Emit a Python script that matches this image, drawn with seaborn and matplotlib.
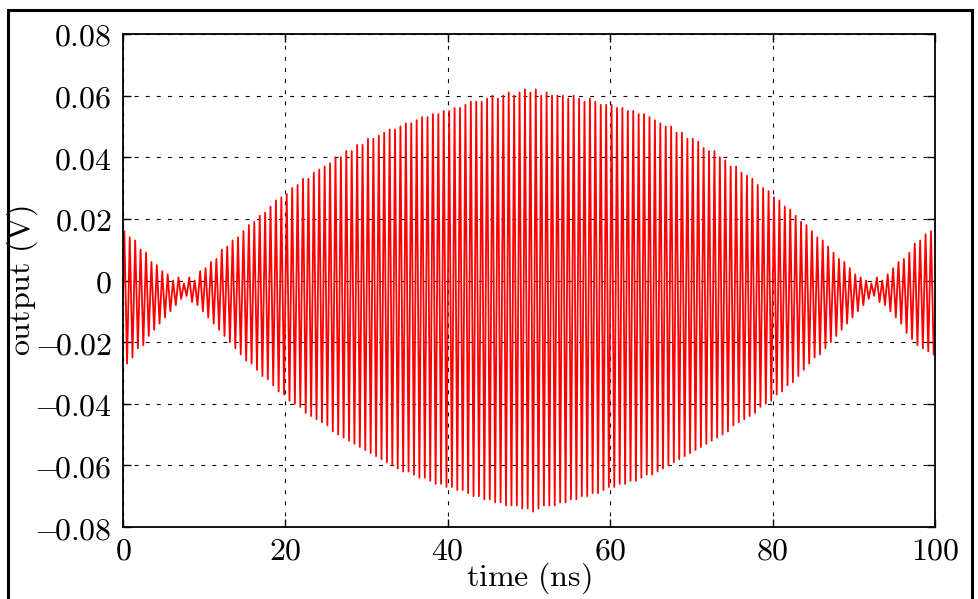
import numpy as np
import pandas as pd
import matplotlib
matplotlib.use("Agg")
import matplotlib.pyplot as plt
from matplotlib.patches import Rectangle
from matplotlib.ticker import FixedLocator, FixedFormatter
import seaborn as sns

# ---- data ----
# carrier period (ns), about 150 cycles over 100 ns
period_ns = 0.6667

# positive peak of each cycle (mV)
hi_mv = [16, 14, 13, 10, 9, 6, 5, 3, 2, 0,
         1, -1, 1, 0, 3, 4, 6, 7, 10, 11,
         13, 14, 16, 18, 19, 21, 22, 24, 26, 27,
         28, 30, 31, 33, 33, 35, 36, 37, 38, 40,
         40, 42, 42, 44, 44, 46, 46, 47, 48, 49,
         49, 50, 51, 51, 52, 53, 53, 54, 54, 55,
         55, 56, 56, 57, 58, 58, 58, 59, 60, 59,
         60, 61, 60, 61, 62, 61, 62, 60, 61, 60,
         60, 60, 59, 60, 59, 58, 59, 58, 57, 57,
         57, 56, 56, 55, 55, 54, 54, 53, 52, 51,
         50, 50, 48, 48, 46, 46, 45, 43, 42, 42,
         40, 39, 37, 37, 35, 34, 33, 31, 30, 29,
         27, 26, 24, 23, 21, 19, 18, 16, 14, 13,
         11, 9, 7, 6, 4, 2, 1, 0, -1, 1,
         0, 2, 4, 6, 7, 9, 12, 13, 15, 16]

# negative peak of each cycle (mV)
lo_mv = [-27, -25, -22, -21, -18, -16, -14, -12, -10, -8,
         -6, -5, -7, -8, -10, -12, -14, -16, -18, -20,
         -22, -24, -26, -27, -29, -31, -32, -34, -36, -37,
         -39, -40, -41, -43, -44, -45, -46, -47, -49, -50,
         -51, -52, -53, -54, -55, -56, -57, -58, -59, -60,
         -61, -62, -62, -63, -64, -64, -65, -66, -66, -67,
         -67, -68, -68, -69, -70, -70, -71, -71, -72, -72,
         -73, -73, -73, -74, -74, -75, -74, -73, -73, -73,
         -72, -72, -71, -71, -70, -70, -69, -69, -68, -67,
         -67, -66, -66, -65, -65, -64, -63, -63, -62, -61,
         -60, -59, -58, -57, -56, -55, -54, -53, -52, -51,
         -50, -49, -47, -46, -45, -44, -43, -41, -40, -39,
         -37, -36, -34, -33, -31, -29, -27, -25, -24, -22,
         -20, -18, -16, -14, -12, -10, -8, -6, -5, -7,
         -8, -10, -12, -14, -17, -19, -21, -22, -23, -24]

start_mv = -5
end_mv = -13

x_ticks = [0, 20, 40, 60, 80, 100]
x_labels = ["0", "20", "40", "60", "80", "100"]
y_ticks = [-0.08, -0.06, -0.04, -0.02, 0.0, 0.02, 0.04, 0.06, 0.08]
y_labels = ["-0.08", "-0.06", "-0.04", "-0.02", "0", "0.02", "0.04", "0.06", "0.08"]

# ---- build the trace ----
n = len(hi_mv)
k = np.arange(n)
t = np.empty(2 * n)
v = np.empty(2 * n)
t[0::2] = k * period_ns + period_ns / 4
t[1::2] = k * period_ns + 3 * period_ns / 4
v[0::2] = hi_mv
v[1::2] = lo_mv
t = np.concatenate([[0.0], t, [100.0]])
v = np.concatenate([[start_mv], v, [end_mv]]) / 1000.0
df = pd.DataFrame({"time": t, "output": v})

# ---- style ----
sns.set_style("white")
plt.rcParams["mathtext.fontset"] = "cm"
plt.rcParams["font.family"] = ["DejaVu Serif"]
plt.rcParams["text.color"] = "black"
plt.rcParams["axes.labelcolor"] = "black"

fig = plt.figure(figsize=(9.79, 5.99), dpi=100)
ax = fig.add_axes([123 / 979, 1 - 527 / 599, (935 - 123) / 979, (527 - 34) / 599])

sns.lineplot(data=df, x="time", y="output", sort=False, estimator=None,
             color="#ff0000", linewidth=1.3, ax=ax)

ax.set_xlim(0, 100)
ax.set_ylim(-0.08, 0.08)
ax.xaxis.set_major_locator(FixedLocator(x_ticks))
ax.xaxis.set_major_formatter(FixedFormatter(["$%s$" % s for s in x_labels]))
ax.yaxis.set_major_locator(FixedLocator(y_ticks))
# tighten the gap after the minus sign a little
ax.yaxis.set_major_formatter(FixedFormatter(["$%s$" % s.replace("-", r"-\!") for s in y_labels]))

ax.tick_params(direction="in", length=6, width=1.0, top=True, right=True,
               bottom=True, left=True, labelsize=23, pad=8, colors="black")
ax.tick_params(axis="x", pad=6)

ax.grid(True, color="black", linewidth=0.8, linestyle=(0, (3.5, 6.5)))
ax.set_axisbelow(True)
for sp in ax.spines.values():
    sp.set_visible(True)
    sp.set_color("black")
    sp.set_linewidth(1.3)

ax.set_xlabel(r"$\mathrm{time\ (ns)}$", fontsize=23, color="black")
ax.set_ylabel(r"$\mathrm{output\ (V)}$", fontsize=23, color="black")
ax.xaxis.set_label_coords(0.5, -0.068)
ax.yaxis.set_label_coords(-0.102, 0.5)

# outer frame of the original figure (bottom edge is cut off)
fig.add_artist(Rectangle((8.5 / 979, -0.2), (972 - 8.5) / 979, 1.2 - 10.5 / 599,
                         transform=fig.transFigure, fill=False,
                         edgecolor="black", linewidth=2.2))

fig.savefig("out.png", dpi=100)
